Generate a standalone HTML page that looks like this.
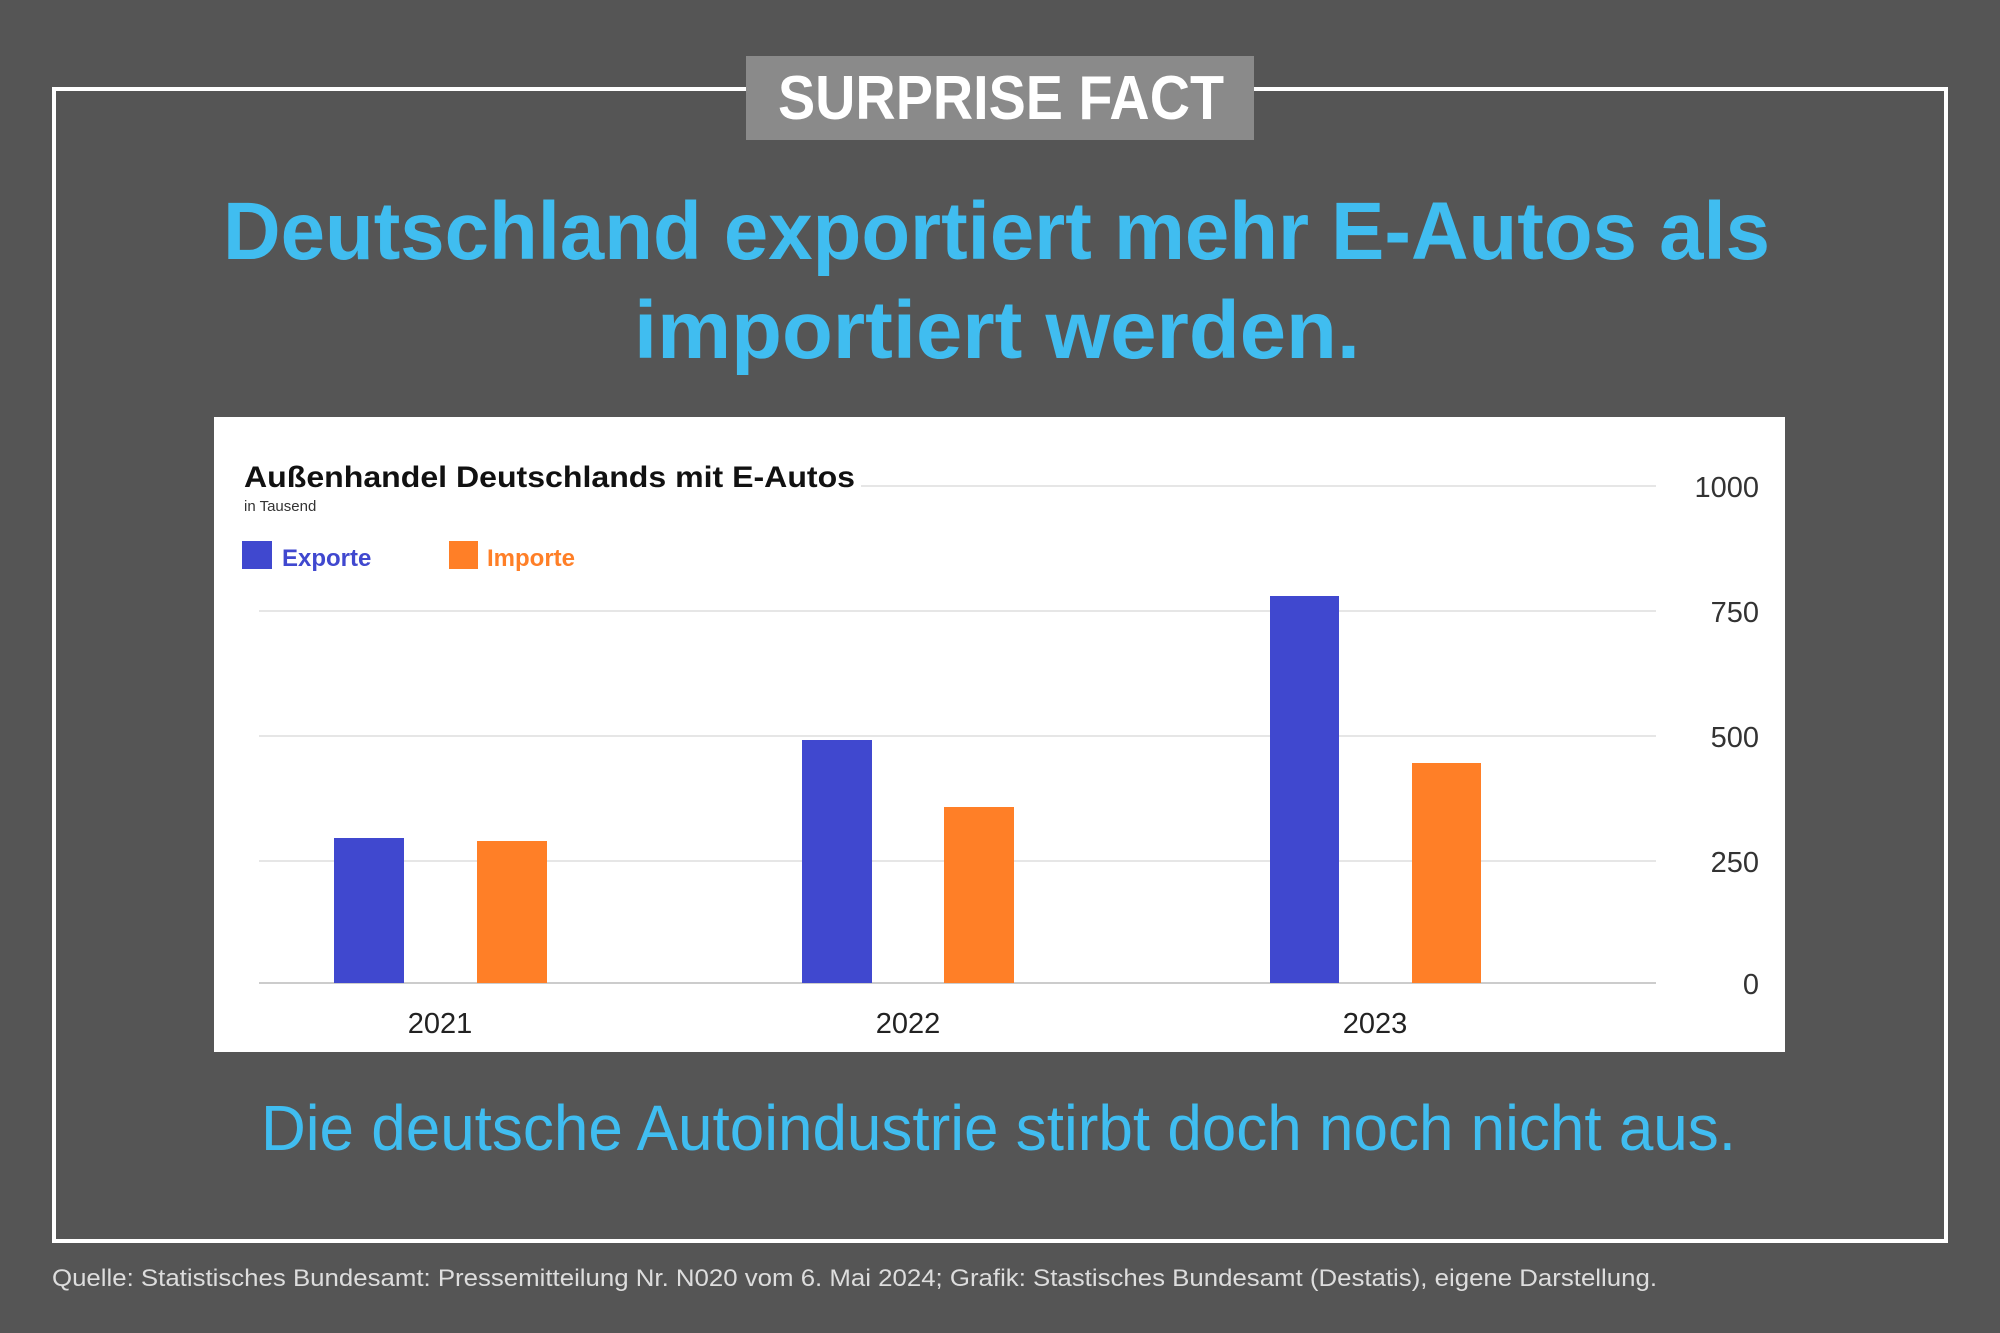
<!DOCTYPE html>
<html><head><meta charset="utf-8"><style>
html,body{margin:0;padding:0;background:#555;}
svg{display:block;font-family:"Liberation Sans",sans-serif;}
</style></head><body>
<svg width="2000" height="1333" viewBox="0 0 2000 1333" xmlns="http://www.w3.org/2000/svg">
<rect x="0" y="0" width="2000" height="1333" fill="#555555"/>
<rect x="54" y="89" width="1892" height="1152" fill="none" stroke="#ffffff" stroke-width="4"/>
<rect x="746" y="56" width="508" height="84" fill="#8a8a8a"/>
<text x="778" y="119" font-size="62" font-weight="bold" fill="#ffffff" textLength="446" lengthAdjust="spacingAndGlyphs">SURPRISE FACT</text>
<text x="223" y="259" font-size="82" font-weight="bold" fill="#40bdf0" textLength="1547" lengthAdjust="spacingAndGlyphs">Deutschland exportiert mehr E-Autos als</text>
<text x="634" y="358" font-size="82" font-weight="bold" fill="#40bdf0" textLength="726" lengthAdjust="spacingAndGlyphs">importiert werden.</text>
<rect x="214" y="417" width="1571" height="635" fill="#ffffff"/>
<g stroke="#dddddd" stroke-width="1.5">
<line x1="861" y1="486" x2="1656" y2="486"/>
<line x1="259" y1="611" x2="1656" y2="611"/>
<line x1="259" y1="736" x2="1656" y2="736"/>
<line x1="259" y1="861" x2="1656" y2="861"/>
<line x1="259" y1="983" x2="1656" y2="983" stroke="#bbbbbb"/>
</g>
<g font-size="29" fill="#333" text-anchor="end">
<text x="1759" y="497">1000</text>
<text x="1759" y="622">750</text>
<text x="1759" y="747">500</text>
<text x="1759" y="872">250</text>
<text x="1759" y="994">0</text>
</g>
<text x="244" y="487" font-size="30" font-weight="bold" fill="#111" textLength="611" lengthAdjust="spacingAndGlyphs">Außenhandel Deutschlands mit E-Autos</text>
<text x="244" y="511" font-size="15" fill="#333">in Tausend</text>
<rect x="242" y="541" width="30" height="28" fill="#4048cf"/>
<text x="282" y="566" font-size="24" font-weight="bold" fill="#4048cf">Exporte</text>
<rect x="449" y="541" width="29" height="28" fill="#ff7f27"/>
<text x="487" y="566" font-size="24" font-weight="bold" fill="#ff7f27">Importe</text>
<g fill="#4048cf">
<rect x="334" y="838" width="70" height="145"/>
<rect x="802" y="740" width="70" height="243"/>
<rect x="1270" y="596" width="69" height="387"/>
</g>
<g fill="#ff7f27">
<rect x="477" y="841" width="70" height="142"/>
<rect x="944" y="807" width="70" height="176"/>
<rect x="1412" y="763" width="69" height="220"/>
</g>
<g font-size="29" fill="#222" text-anchor="middle">
<text x="440" y="1033">2021</text>
<text x="908" y="1033">2022</text>
<text x="1375" y="1033">2023</text>
</g>
<text x="261" y="1150" font-size="64" fill="#40bdf0" textLength="1475" lengthAdjust="spacingAndGlyphs">Die deutsche Autoindustrie stirbt doch noch nicht aus.</text>
<text x="52" y="1286" font-size="24" fill="#dddddd" textLength="1605" lengthAdjust="spacingAndGlyphs">Quelle: Statistisches Bundesamt: Pressemitteilung Nr. N020 vom 6. Mai 2024; Grafik: Stastisches Bundesamt (Destatis), eigene Darstellung.</text>
</svg>
</body></html>
